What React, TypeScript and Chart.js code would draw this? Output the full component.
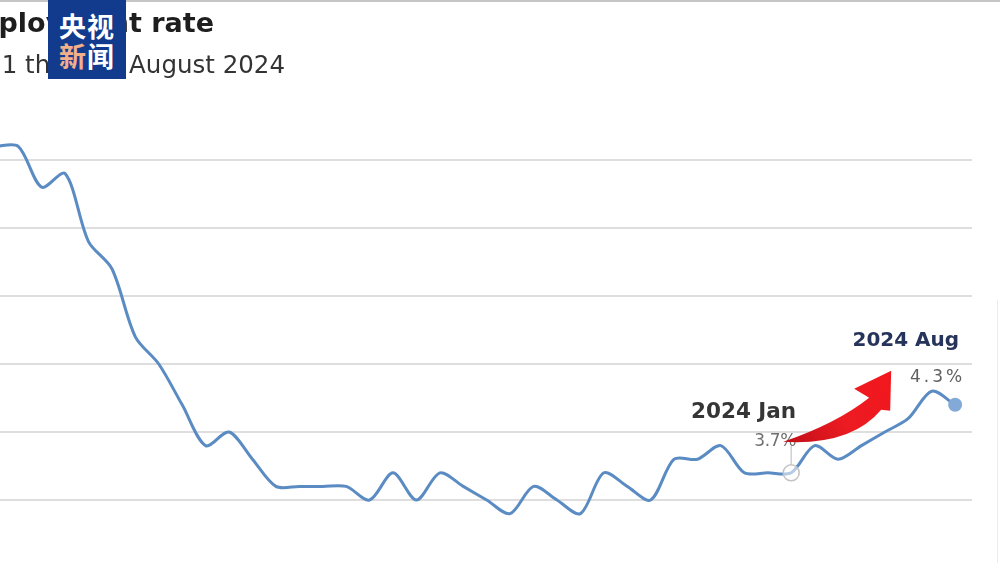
import React, { useEffect, useRef } from "react";
import { Chart, registerables } from "chart.js";

Chart.register(...registerables);

const months = [
  "2021 Mar", "2021 Apr", "2021 May", "2021 Jun", "2021 Jul", "2021 Aug", "2021 Sep", "2021 Oct", "2021 Nov", "2021 Dec",
  "2022 Jan", "2022 Feb", "2022 Mar", "2022 Apr", "2022 May", "2022 Jun", "2022 Jul", "2022 Aug", "2022 Sep", "2022 Oct", "2022 Nov", "2022 Dec",
  "2023 Jan", "2023 Feb", "2023 Mar", "2023 Apr", "2023 May", "2023 Jun", "2023 Jul", "2023 Aug", "2023 Sep", "2023 Oct", "2023 Nov", "2023 Dec",
  "2024 Jan", "2024 Feb", "2024 Mar", "2024 Apr", "2024 May", "2024 Jun", "2024 Jul", "2024 Aug",
];
const rates = [
  6.1, 6.1, 5.8, 5.9, 5.4, 5.2, 4.7, 4.5, 4.2, 3.9,
  4.0, 3.8, 3.6, 3.6, 3.6, 3.6, 3.5, 3.7, 3.5, 3.7, 3.6, 3.5,
  3.4, 3.6, 3.5, 3.4, 3.7, 3.6, 3.5, 3.8, 3.8, 3.9, 3.7, 3.7,
  3.7, 3.9, 3.8, 3.9, 4.0, 4.1, 4.3, 4.2,
];
const gridValues = [3.5, 4.0, 4.5, 5.0, 5.5, 6.0];
const startLabel = "2024 Jan";
const startValueText = "3.7%";
const endLabel = "2024 Aug";
const endValueText = "4.3%";
const titleText = "Unemployment rate";
const subtitleText = "January 2021 through August 2024";
const logoTop = ["央", "视"];
const logoBottom = ["新", "闻"];

const START_IDX = months.indexOf(startLabel);
const END_IDX = months.indexOf(endLabel);

const gridPlugin = {
  id: "gridlines",
  beforeDatasetsDraw(chart: any) {
    const ctx = chart.ctx as CanvasRenderingContext2D;
    const { left, right } = chart.chartArea;
    const ys = chart.scales.y;
    ctx.save();
    ctx.strokeStyle = "#dedede";
    ctx.lineWidth = 2;
    gridValues.forEach((v) => {
      const y = Math.round(ys.getPixelForValue(v));
      ctx.beginPath();
      ctx.moveTo(left, y);
      ctx.lineTo(right, y);
      ctx.stroke();
    });
    ctx.restore();
  },
};

const annotationPlugin = {
  id: "annot",
  afterDatasetsDraw(chart: any) {
    const ctx = chart.ctx as CanvasRenderingContext2D;
    const meta = chart.getDatasetMeta(0);
    const a = meta.data[START_IDX];
    const b = meta.data[END_IDX];
    if (!a || !b) return;
    const ax = a.x, ay = a.y, bx = b.x, by = b.y;
    ctx.save();
    ctx.strokeStyle = "#c4c4c4";
    ctx.lineWidth = 1.2;
    ctx.beginPath();
    ctx.moveTo(ax, ay - 27);
    ctx.lineTo(ax, ay - 8);
    ctx.stroke();

    ctx.textBaseline = "alphabetic";
    ctx.textAlign = "right";
    ctx.fillStyle = "#353535";
    ctx.font = "bold 21.5px 'DejaVu Sans', sans-serif";
    ctx.fillText(startLabel, ax + 5, ay - 55);
    ctx.fillStyle = "#707070";
    ctx.font = "17px 'DejaVu Sans', sans-serif";
    (ctx as any).letterSpacing = "-0.3px";
    ctx.fillText(startValueText, ax + 5, ay - 27);

    ctx.fillStyle = "#26335a";
    ctx.font = "bold 20px 'DejaVu Sans', sans-serif";
    (ctx as any).letterSpacing = "0px";
    ctx.fillText(endLabel, bx + 4, by - 59);
    ctx.fillStyle = "#606060";
    ctx.font = "17px 'DejaVu Sans', sans-serif";
    (ctx as any).letterSpacing = "3px";
    ctx.fillText(endValueText, bx + 10, by - 23);
    (ctx as any).letterSpacing = "0px";

    // red curved arrow, placed relative to the Jan point
    const o = (dx: number, dy: number): [number, number] => [ax + dx, ay + dy];
    const p = new Path2D();
    const t = o(-8, -31);
    p.moveTo(t[0], t[1]);
    const c1 = o(60, -27), n1 = o(90, -63);
    p.quadraticCurveTo(c1[0], c1[1], n1[0], n1[1]);
    const h1 = o(99, -62), tip = o(100, -102), h2 = o(63, -84), n2 = o(78, -75);
    p.lineTo(h1[0], h1[1]);
    p.lineTo(tip[0], tip[1]);
    p.lineTo(h2[0], h2[1]);
    p.lineTo(n2[0], n2[1]);
    const c2 = o(45, -49);
    p.quadraticCurveTo(c2[0], c2[1], t[0], t[1]);
    p.closePath();
    const g = ctx.createLinearGradient(ax, ay - 30, ax + 100, ay - 100);
    g.addColorStop(0, "#c40f18");
    g.addColorStop(0.45, "#ec1b22");
    g.addColorStop(1, "#f2171d");
    ctx.fillStyle = g;
    ctx.fill(p);
    ctx.restore();
  },
};

export default function App() {
  const ref = useRef<HTMLCanvasElement | null>(null);
  useEffect(() => {
    if (!ref.current) return;
    const chart = new Chart(ref.current, {
      type: "line",
      data: {
        datasets: [
          {
            data: rates.map((v, i) => ({ x: i, y: v })),
            borderColor: "#5a8bc3",
            borderWidth: 3,
            tension: 0.3,
            pointRadius: (c: any) => (c.dataIndex === START_IDX ? 8 : c.dataIndex === END_IDX ? 7 : 0),
            pointBackgroundColor: (c: any) => (c.dataIndex === END_IDX ? "#83a9d6" : "rgba(255,255,255,0.55)"),
            pointBorderColor: (c: any) => (c.dataIndex === END_IDX ? "#83a9d6" : "#c2c2c2"),
            pointBorderWidth: (c: any) => (c.dataIndex === END_IDX ? 0 : 1.5),
          },
        ],
      },
      options: {
        responsive: false,
        animation: false,
        maintainAspectRatio: false,
        layout: { autoPadding: false, padding: { left: 0, right: 28, top: 0, bottom: 0 } },
        plugins: { legend: { display: false }, tooltip: { enabled: false } },
        scales: {
          x: { type: "linear", min: 0.222, max: 41.72, display: false },
          y: { type: "linear", min: 3.037, max: 7.176, display: false },
        },
      },
      plugins: [gridPlugin, annotationPlugin],
    });
    return () => chart.destroy();
  }, []);

  return (
    <div style={{ position: "fixed", left: 0, top: 0, width: 1000, height: 563, background: "#fff", overflow: "hidden" }}>
      <canvas ref={ref} width={1000} height={563} style={{ position: "absolute", left: 0, top: 0, width: 1000, height: 563 }} />
      <div style={{ position: "absolute", left: 0, top: 0, width: 1000, height: 1.5, background: "#c6c6c6" }} />
      <div style={{ position: "absolute", left: 997, top: 300, width: 1, height: 263, background: "#ececec" }} />
      <div
        style={{
          position: "absolute", right: 786, top: 7, whiteSpace: "nowrap",
          font: "bold 27px 'DejaVu Sans', sans-serif", color: "#1e1e1e", lineHeight: "32px",
        }}
      >
        {titleText}
      </div>
      <div
        style={{
          position: "absolute", right: 715, top: 50, whiteSpace: "nowrap",
          font: "24.5px 'DejaVu Sans', sans-serif", color: "#333", lineHeight: "30px",
        }}
      >
        {subtitleText}
      </div>
      <div
        style={{
          position: "absolute", left: 48, top: 0, width: 78, height: 79, background: "#123b8e",
          font: "bold 27px 'Noto Sans CJK SC', sans-serif", lineHeight: "30px", textAlign: "center",
          paddingTop: 11, boxSizing: "border-box", letterSpacing: 1,
        }}
      >
        <div>
          <span style={{ color: "#fff" }}>{logoTop[0]}</span>
          <span style={{ color: "#fff" }}>{logoTop[1]}</span>
        </div>
        <div>
          <span style={{ color: "#f2b08a" }}>{logoBottom[0]}</span>
          <span style={{ color: "#fff" }}>{logoBottom[1]}</span>
        </div>
      </div>
    </div>
  );
}
